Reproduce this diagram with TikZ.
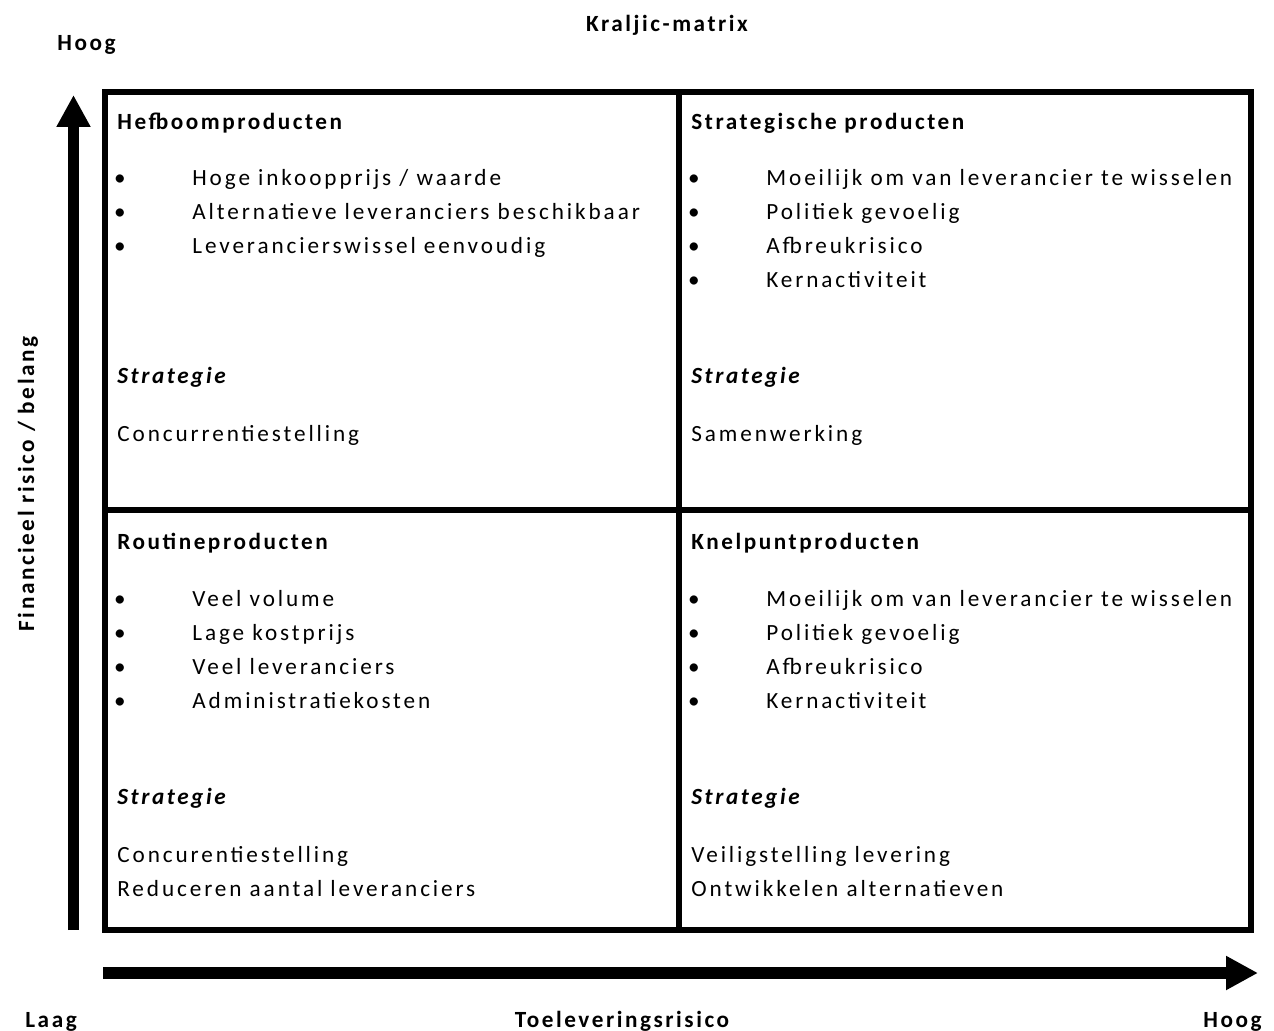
\documentclass[tikz,border=0pt]{standalone}
\usepackage{fontspec}
\setmainfont{Carlito}[LetterSpace=12.5,BoldFeatures={LetterSpace=11},BoldItalicFeatures={LetterSpace=11}]
\usetikzlibrary{arrows.meta}

\begin{document}
\begin{tikzpicture}[x=0.5pt,y=-0.5pt,
  box/.style={line width=2.8pt},
  axisarrow/.style={line width=5.8pt,-{Triangle[length=16pt,width=16pt]}},
  item/.style={anchor=base west,inner sep=0pt,font=\fontsize{11.6}{14}\selectfont},
  dot/.style={anchor=base,inner sep=0pt,font=\fontsize{11.6}{14}\selectfont},
  head/.style={item,font=\fontsize{11.6}{14}\selectfont\bfseries},
  strat/.style={item,font=\fontsize{11.6}{14}\selectfont\bfseries\itshape},
  axis/.style={inner sep=0pt,font=\fontsize{11.6}{14}\selectfont\bfseries}]
 \useasboundingbox (0,0) rectangle (1274,1031);
 % the four fields
 \draw[box] (105,92) rectangle (1251,930);
 \draw[box] (679,92) -- (679,930);
 \draw[box] (105,510) -- (1251,510);
 % axes
 \coordinate (yfoot) at (73.5,930); \coordinate (ytop) at (73.5,95);
 \coordinate (xfoot) at (103,973); \coordinate (xtop) at (1258,973);
 \draw[axisarrow] (yfoot) -- (ytop);
 \draw[axisarrow] (xfoot) -- (xtop);
 \node[axis,anchor=base] (title) at (667,32) {Kraljic-matrix};
 \node[axis,anchor=base west] (yhoog) at (57,51) {Hoog};
 \node[axis,rotate=90] (ylabel) at (28,484) {Financieel risico / belang};
 \node[axis,anchor=base west] (xlaag) at (25,1027) {Laag};
 \node[axis,anchor=base] (xlabel) at (622,1027) {Toeleveringsrisico};
 \node[axis,anchor=base east] (xhoog) at (1262,1027) {Hoog};
 % top left
 \begin{scope}
  \node[head] (hefboom) at (117,130) {Hefboomproducten};
  \foreach \t [count=\i] in {Hoge inkoopprijs / waarde,Alternatieve leveranciers beschikbaar,Leverancierswissel eenvoudig}{
   \node[dot] (hefboom-d\i) at (120,{186+34*(\i-1)}) {\textbullet};
   \node[item] (hefboom-t\i) at (192,{186+34*(\i-1)}) {\t};
  }
  \node[strat] (hefboom-s) at (117,384) {Strategie};
  \node[item] (hefboom-a) at (117,442) {Concurrentiestelling};
 \end{scope}
 % top right
 \begin{scope}[shift={(574,0)}]
  \node[head] (strategisch) at (117,130) {Strategische producten};
  \foreach \t [count=\i] in {Moeilijk om van leverancier te wisselen,Politiek gevoelig,Afbreukrisico,Kernactiviteit}{
   \node[dot] (strategisch-d\i) at (120,{186+34*(\i-1)}) {\textbullet};
   \node[item] (strategisch-t\i) at (192,{186+34*(\i-1)}) {\t};
  }
  \node[strat] (strategisch-s) at (117,384) {Strategie};
  \node[item] (strategisch-a) at (117,442) {Samenwerking};
 \end{scope}
 % bottom left
 \begin{scope}[shift={(0,420)}]
  \node[head] (routine) at (117,130) {Routineproducten};
  \foreach \t [count=\i] in {Veel volume,Lage kostprijs,Veel leveranciers,Administratiekosten}{
   \node[dot] (routine-d\i) at (120,{186+34*(\i-1)}) {\textbullet};
   \node[item] (routine-t\i) at (192,{186+34*(\i-1)}) {\t};
  }
  \node[strat] (routine-s) at (117,384) {Strategie};
  \node[item] (routine-a) at (117,442) {Concurentiestelling};
  \node[item] (routine-b) at (117,476) {Reduceren aantal leveranciers};
 \end{scope}
 % bottom right
 \begin{scope}[shift={(574,420)}]
  \node[head] (knelpunt) at (117,130) {Knelpuntproducten};
  \foreach \t [count=\i] in {Moeilijk om van leverancier te wisselen,Politiek gevoelig,Afbreukrisico,Kernactiviteit}{
   \node[dot] (knelpunt-d\i) at (120,{186+34*(\i-1)}) {\textbullet};
   \node[item] (knelpunt-t\i) at (192,{186+34*(\i-1)}) {\t};
  }
  \node[strat] (knelpunt-s) at (117,384) {Strategie};
  \node[item] (knelpunt-a) at (117,442) {Veiligstelling levering};
  \node[item] (knelpunt-b) at (117,476) {Ontwikkelen alternatieven};
 \end{scope}
\end{tikzpicture}
\end{document}
